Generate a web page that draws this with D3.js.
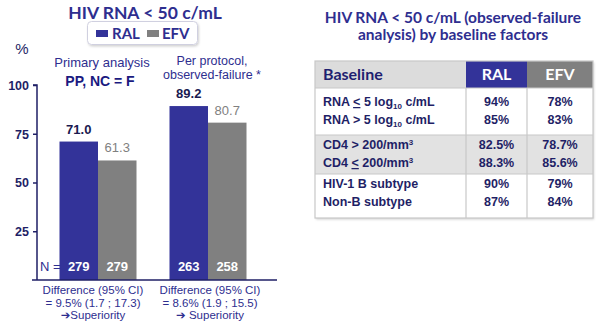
<!DOCTYPE html>
<html><head><meta charset="utf-8">
<script src="https://cdn.jsdelivr.net/npm/d3@7"></script>
<style>body{margin:0;background:#fff}svg{display:block}</style>
</head><body>
<svg id="c" width="600" height="329"></svg>
<script>
const groups = ["Primary analysis", "Per protocol"];
const ralValues = [71.0, 89.2];
const efvValues = [61.3, 80.7];
const ralN = [279, 263];
const efvN = [279, 258];
const yTicks = [25, 50, 75, 100];
const diffLines = [
  ["Difference (95% CI)", "= 9.5% (1.7 ; 17.3)", "Superiority"],
  ["Difference (95% CI)", "= 8.6% (1.9 ; 15.5)", " Superiority"]
];
const tableHeader = ["Baseline", "RAL", "EFV"];
const tableFactors = [
  [["RNA ", "<", " 5 log", "10", " c/mL"], ["RNA > 5 log", "10", " c/mL"]],
  [["CD4 > 200/mm", "3"], ["CD4 ", "<", " 200/mm", "3"]],
  [["HIV-1 B subtype"], ["Non-B subtype"]]
];
const tableRal = [["94%", "85%"], ["82.5%", "88.3%"], ["90%", "87%"]];
const tableEfv = [["78%", "83%"], ["78.7%", "85.6%"], ["79%", "84%"]];

const BLUE = "#333399", GREY = "#808080", NAVY = "#1f1f66", TXT = "#2e2e8f";
const svg = d3.select("#c");
const defs = svg.append("defs");
const f = defs.append("filter").attr("id","sh").attr("x","-10%").attr("y","-10%").attr("width","130%").attr("height","140%");
f.append("feDropShadow").attr("dx",1).attr("dy",1.5).attr("stdDeviation",1.2).attr("flood-color","#000").attr("flood-opacity",0.18);

// ---- left chart ----
const y = d3.scaleLinear().domain([0, 100]).range([280, 85]);
const x = d3.scaleBand().domain(groups).range([43, 263]).paddingInner(0.3).paddingOuter(0.15);
const xs = d3.scaleBand().domain(["RAL", "EFV"]).range([0, x.bandwidth()]);

svg.append("text").attr("x", 145).attr("y", 19).attr("text-anchor", "middle")
  .attr("font-family", "Lato").attr("font-weight", "bold").attr("font-size", 17.5).attr("fill", TXT)
  .text("HIV RNA < 50 c/mL");

// legend
const lg = svg.append("g");
lg.append("rect").attr("x", 87.5).attr("y", 21.5).attr("width", 110).attr("height", 23).attr("rx", 4)
  .attr("fill", "#fff").attr("stroke", "#d0d0e0").attr("filter", "url(#sh)");
[["RAL", BLUE, 96, 112], ["EFV", GREY, 147, 162]].forEach(([t, c, sx, tx]) => {
  lg.append("rect").attr("x", sx).attr("y", 30).attr("width", 12).attr("height", 7).attr("fill", c);
  lg.append("text").attr("x", tx).attr("y", 38.5).attr("font-family", "Lato").attr("font-weight", "bold")
    .attr("font-size", 15).attr("fill", TXT).text(t);
});

svg.append("text").attr("x", 22).attr("y", 54).attr("text-anchor", "middle").attr("font-family", "Liberation Sans")
  .attr("font-size", 15).attr("fill", NAVY).text("%");

const txt = (g, xx, yy, s, o = {}) => g.append("text").attr("x", xx).attr("y", yy)
  .attr("text-anchor", o.anchor || "middle").attr("font-family", o.family || "Liberation Sans")
  .attr("font-weight", o.weight || "normal").attr("font-size", o.size || 12).attr("fill", o.fill || TXT).text(s);

txt(svg, 102, 67, "Primary analysis", {size: 13});
txt(svg, 100, 86, "PP, NC = F", {size: 14, weight: "bold", fill: "#1a1a80"});
txt(svg, 212, 65, "Per protocol,", {size: 12.5});
txt(svg, 212, 79, "observed-failure *", {size: 12.5});

// y axis
const ax = svg.append("g").attr("transform", "translate(37,0)")
  .call(d3.axisLeft(y).tickValues(yTicks).tickSize(4).tickPadding(4));
ax.select(".domain").attr("stroke", NAVY).attr("stroke-width", 1.5).attr("d", "M-4," + y(100) + "H0V" + y(0));
ax.selectAll(".tick line").attr("stroke", NAVY).attr("stroke-width", 1.5);
ax.selectAll(".tick text").attr("font-family", "Liberation Sans").attr("font-weight", "bold")
  .attr("font-size", 12.5).attr("fill", NAVY).attr("dy", "0.35em");

// bars
const gb = svg.append("g");
groups.forEach((g, i) => {
  const x0 = x(g);
  const ral = ralValues[i], efv = efvValues[i];
  gb.append("rect").attr("x", x0 + xs("RAL")).attr("y", y(ral)).attr("width", xs.bandwidth()).attr("height", y(0) - y(ral)).attr("fill", BLUE);
  gb.append("rect").attr("x", x0 + xs("EFV")).attr("y", y(efv)).attr("width", xs.bandwidth()).attr("height", y(0) - y(efv)).attr("fill", GREY);
  txt(gb, x0 + xs("RAL") + xs.bandwidth() / 2, y(ral) - 8, ral.toFixed(1), {size: 13, weight: "bold", fill: "#1a1a50"});
  txt(gb, x0 + xs("EFV") + xs.bandwidth() / 2, y(efv) - 8, efv.toFixed(1), {size: 13, fill: GREY});
  txt(gb, x0 + xs("RAL") + xs.bandwidth() / 2, 271, ralN[i], {size: 13, weight: "bold", fill: "#fff"});
  txt(gb, x0 + xs("EFV") + xs.bandwidth() / 2, 271, efvN[i], {size: 13, weight: "bold", fill: "#fff"});
  const cx = x0 + x.bandwidth() / 2 - 5 + (i ? 7 : 0);
  diffLines[i].forEach((l, k) => {
    const t = txt(svg, cx, 294 + k * 12.5, k < 2 ? l : null, {size: 11.5});
    if (k === 2) {
      t.append("tspan").attr("font-family", "DejaVu Sans").attr("font-weight", "bold").text("\u2794");
      t.append("tspan").text(l);
    }
  });
});
txt(svg, 40, 271, "N =", {anchor: "start", size: 13});

// x axis
svg.append("line").attr("x1", 32).attr("x2", 277).attr("y1", y(0)).attr("y2", y(0)).attr("stroke", NAVY).attr("stroke-width", 1.5);

// ---- right table ----
txt(svg, 453, 23, "HIV RNA < 50 c/mL (observed-failure", {family: "Lato", weight: "bold", size: 15.5});
txt(svg, 453, 40, "analysis) by baseline factors", {family: "Lato", weight: "bold", size: 15.5});

const cols = [315, 466, 527, 593];
const hdrTop = 61, hdrBot = 88;
const groupBounds = [[88, 135], [135, 174], [174, 218]];
const tb = svg.append("g");
tb.append("rect").attr("x", cols[0]).attr("y", hdrTop).attr("width", cols[3] - cols[0]).attr("height", 218 - hdrTop)
  .attr("fill", "#fff").attr("filter", "url(#sh)");
const hdrFill = ["#dcdcdc", BLUE, GREY];
tableHeader.forEach((h, j) => {
  tb.append("rect").attr("x", cols[j]).attr("y", hdrTop).attr("width", cols[j + 1] - cols[j]).attr("height", hdrBot - hdrTop).attr("fill", hdrFill[j]);
  txt(tb, j === 0 ? 323 : (cols[j] + cols[j + 1]) / 2, 80, h, {family: "Lato", weight: "bold", size: 16,
    anchor: j === 0 ? "start" : "middle", fill: j === 0 ? "#1f1f70" : "#fff"});
});
groupBounds.forEach(([a, b], gi) => {
  tb.append("rect").attr("x", cols[0]).attr("y", a).attr("width", cols[3] - cols[0]).attr("height", b - a)
    .attr("fill", gi === 1 ? "#e2e2e2" : "#fff");
  tableFactors[gi].forEach((parts, r) => {
    const yy = a + 18 + r * 18 + (gi === 0 ? 0 : -4);
    const t = tb.append("text").attr("x", 323).attr("y", yy).attr("font-family", "Liberation Sans")
      .attr("font-weight", "bold").attr("font-size", 12.5).attr("fill", NAVY);
    parts.forEach((p, pi) => {
      const ts = t.append("tspan").text(p);
      if (p === "<") ts.attr("text-decoration", "underline");
      if (p === "10") ts.attr("font-size", 8).attr("dy", 3);
      else if (p === "3") ts.attr("font-size", 8).attr("dy", -4);
      else if (pi > 0 && (parts[pi - 1] === "10")) ts.attr("dy", -3);
    });
    txt(tb, (cols[1] + cols[2]) / 2, yy, tableRal[gi][r], {size: 12.5, weight: "bold", fill: NAVY});
    txt(tb, (cols[2] + cols[3]) / 2, yy, tableEfv[gi][r], {size: 12.5, weight: "bold", fill: NAVY});
  });
});
// borders
const bc = "#c8c8c8";
[hdrBot, 135, 174].forEach(yy => tb.append("line").attr("x1", cols[0]).attr("x2", cols[3]).attr("y1", yy).attr("y2", yy).attr("stroke", bc).attr("stroke-width", 1.2));
[cols[1], cols[2]].forEach(xx => tb.append("line").attr("x1", xx).attr("x2", xx).attr("y1", hdrBot).attr("y2", 218).attr("stroke", bc).attr("stroke-width", 1.2));
tb.append("rect").attr("x", cols[0]).attr("y", hdrTop).attr("width", cols[3] - cols[0]).attr("height", 218 - hdrTop)
  .attr("fill", "none").attr("stroke", bc).attr("stroke-width", 1.2);
</script>
</body></html>
